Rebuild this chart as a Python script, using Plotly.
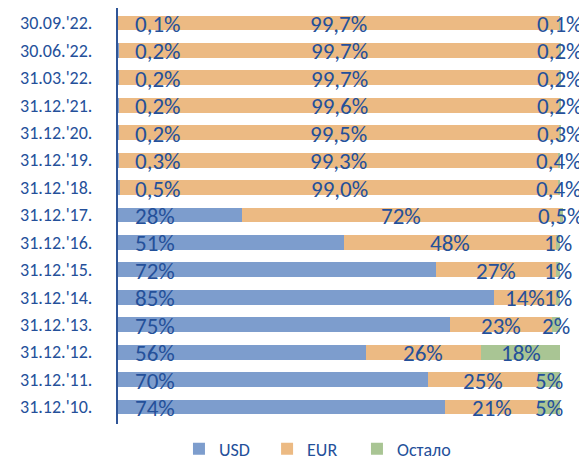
import plotly.graph_objects as go

categories = ["31.12.'10.", "31.12.'11.", "31.12.'12.", "31.12.'13.", "31.12.'14.",
              "31.12.'15.", "31.12.'16.", "31.12.'17.", "31.12.'18.", "31.12.'19.",
              "31.12.'20.", "31.12.'21.", "31.03.'22.", "30.06.'22.", "30.09.'22."]
usd = [74, 70, 56, 75, 85, 72, 51, 28, 0.5, 0.3, 0.2, 0.2, 0.2, 0.2, 0.1]
eur = [21, 25, 26, 23, 14, 27, 48, 72, 99.0, 99.3, 99.5, 99.6, 99.7, 99.7, 99.7]
other = [5, 5, 18, 2, 1, 1, 1, 0.5, 0.4, 0.4, 0.3, 0.2, 0.2, 0.2, 0.1]
decimals = [0, 0, 0, 0, 0, 0, 0, 0, 1, 1, 1, 1, 1, 1, 1]

series_names = ["USD", "EUR", "Остало"]
colors = ["#7D9DCD", "#ECBA83", "#A9C594"]
legend_ids = ["legend", "legend2", "legend3"]
legend_x = [0.137, 0.335, 0.537]
text_color = "#24509A"
font_family = "Carlito, Lato, sans-serif"


def fmt(v, d):
    if v < 1:
        d = 1
    s = f"{v:.{d}f}".replace(".", ",")
    return s + "%"


fig = go.Figure()
for name, vals, col, lg in zip(series_names, [usd, eur, other], colors, legend_ids):
    fig.add_trace(go.Bar(y=categories, x=vals, name=name, orientation="h",
                         marker=dict(color=col, line=dict(width=0)),
                         legend=lg, hoverinfo="skip"))

lab_font = dict(size=23, color=text_color, family=font_family)
annotations = []
for i, cat in enumerate(categories):
    d = decimals[i]
    annotations.append(dict(x=0, y=cat, xref="x", yref="y", text=fmt(usd[i], d),
                            xanchor="left", xshift=15, yshift=-1, showarrow=False,
                            font=lab_font))
    annotations.append(dict(x=usd[i] + eur[i] / 2, y=cat, xref="x", yref="y",
                            text=fmt(eur[i], d), xanchor="center", yshift=-1,
                            showarrow=False, font=lab_font))
    annotations.append(dict(x=usd[i] + eur[i] + other[i] / 2, y=cat, xref="x", yref="y",
                            text=fmt(other[i], d), xanchor="center", yshift=-1,
                            showarrow=False, font=lab_font))

legend_common = dict(orientation="h", xanchor="left", y=-0.060, yanchor="middle",
                     font=dict(size=18, color=text_color), bgcolor="rgba(0,0,0,0)")

# page has an 8px body margin, so the figure is sized to fill the rest of the window
fig.update_layout(
    width=579, height=452,
    margin=dict(l=110, r=24, t=0, b=36, autoexpand=False),
    barmode="stack", bargap=0.46,
    paper_bgcolor="white", plot_bgcolor="white",
    font=dict(family=font_family, color=text_color, size=18),
    xaxis=dict(range=[0, 100.6], showgrid=False, showticklabels=False, zeroline=False,
               fixedrange=True),
    yaxis=dict(showgrid=False, showline=True, linecolor="#2F5597", linewidth=2,
               ticks="", ticklabelstandoff=20,
               tickfont=dict(size=18, color=text_color)),
    legend=dict(x=legend_x[0], **legend_common),
    legend2=dict(x=legend_x[1], **legend_common),
    legend3=dict(x=legend_x[2], **legend_common),
    annotations=annotations,
    showlegend=True,
)

fig.write_html("out.html")
